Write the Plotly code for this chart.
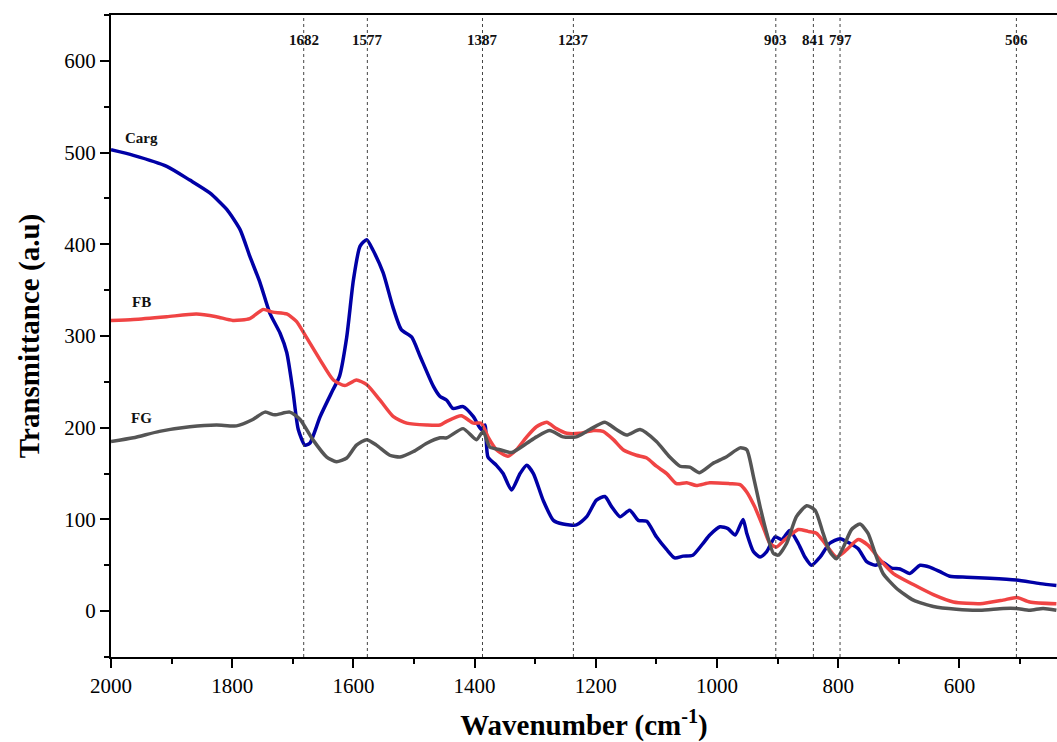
import plotly.graph_objects as go

# ---- data ----
carg_x = [2000, 1963, 1908, 1870, 1837, 1809, 1787, 1771, 1754, 1738, 1721, 1710, 1700, 1691, 1680,
          1672, 1655, 1634, 1623, 1611, 1600, 1589, 1578, 1568, 1551, 1535, 1521, 1504, 1490, 1468,
          1457, 1446, 1436, 1419, 1402, 1389, 1383, 1378, 1364, 1353, 1339, 1325, 1314, 1303, 1287,
          1270, 1254, 1232, 1215, 1199, 1185, 1174, 1160, 1144, 1130, 1116, 1100, 1083, 1070, 1056,
          1040, 1023, 1012, 995, 982, 970, 957, 951, 940, 929, 918, 904, 893, 880, 866, 855, 844,
          830, 814, 797, 781, 767, 753, 739, 726, 712, 698, 682, 665, 649, 632, 616, 588, 550, 506,
          467, 440]
carg_y = [503, 497, 485, 470, 456, 438, 416, 387, 358, 325, 303, 282, 241, 198, 181,
          183, 212, 241, 256, 299, 361, 398, 405, 394, 369, 332, 307, 299, 278, 245,
          234, 230, 221, 223, 212, 198, 203, 168, 159, 150, 132, 150, 159, 150, 121,
          99, 95, 94, 103, 121, 125, 114, 103, 110, 99, 98, 81, 67, 58, 60,
          61, 74, 83, 92, 90, 83, 100, 85, 65, 59, 65, 81, 78, 88, 74, 59, 50,
          59, 74, 79, 74, 68, 54, 50, 53, 47, 46, 41, 50, 48, 43, 38, 37, 36, 34,
          30, 28]

fb_x = [2000, 1963, 1908, 1859, 1826, 1799, 1771, 1749, 1733, 1710, 1694, 1678, 1655, 1633, 1614,
        1595, 1578, 1556, 1534, 1512, 1479, 1457, 1446, 1422, 1402, 1389, 1378, 1364, 1345, 1331,
        1314, 1298, 1281, 1265, 1248, 1226, 1204, 1188, 1171, 1155, 1133, 1116, 1100, 1083, 1067,
        1050, 1034, 1012, 979, 962, 951, 938, 924, 913, 902, 888, 866, 850, 836, 822, 803, 786,
        767, 751, 731, 709, 676, 643, 610, 566, 528, 505, 484, 440]
fb_y = [317, 318, 321, 324, 321, 317, 319, 329, 326, 324, 316, 299, 274, 252, 246,
        252, 247, 230, 212, 205, 203, 203, 207, 213, 205, 205, 190, 176, 169, 176,
        190, 201, 206, 199, 194, 194, 197, 196, 187, 176, 170, 167, 158, 150, 139,
        140, 137, 140, 139, 138, 130, 114, 92, 74, 70, 78, 89, 87, 85, 74, 59, 67,
        78, 72, 56, 41, 29, 18, 10, 8, 12, 15, 10, 8]

fg_x = [2000, 1963, 1920, 1870, 1826, 1793, 1766, 1746, 1730, 1705, 1688, 1667, 1644, 1628, 1611,
        1595, 1578, 1562, 1540, 1523, 1501, 1479, 1457, 1446, 1419, 1397, 1386, 1375, 1358, 1339,
        1314, 1298, 1276, 1254, 1232, 1210, 1185, 1166, 1149, 1127, 1100, 1078, 1061, 1045, 1029,
        1007, 985, 962, 951, 940, 929, 918, 907, 899, 885, 869, 852, 838, 825, 814, 803, 792,
        778, 764, 751, 739, 726, 704, 676, 643, 605, 566, 528, 506, 484, 462, 440]
fg_y = [185, 189, 196, 201, 203, 202, 209, 217, 214, 217, 209, 187, 168, 163, 167,
        181, 187, 181, 170, 168, 174, 183, 189, 189, 199, 187, 196, 179, 176, 173,
        183, 190, 197, 190, 190, 198, 206, 198, 192, 198, 185, 168, 158, 157, 151,
        161, 168, 178, 176, 147, 114, 85, 63, 61, 74, 103, 115, 110, 85, 65, 57, 69,
        89, 95, 85, 63, 41, 25, 12, 5, 2, 1, 3, 3, 1, 3, 1]

peak_positions = [1682, 1577, 1387, 1237, 903, 841, 797, 506]
peak_labels = ["1682", "1577", "1387", "1237", "903", "841", "797", "506"]

series_names = ["Carg", "FB", "FG"]
series_colors = ["#0000A6", "#F04444", "#555555"]

SERIF = "Liberation Serif, Times New Roman, serif"

fig = go.Figure()
for name, xs, ys, col in zip(series_names, [carg_x, fb_x, fg_x], [carg_y, fb_y, fg_y], series_colors):
    fig.add_trace(go.Scatter(x=xs, y=ys, mode="lines", name=name,
                             line=dict(color=col, width=3.5, shape="spline", smoothing=0.6)))

# vertical dotted reference lines and labels
for p, lab in zip(peak_positions, peak_labels):
    fig.add_shape(type="line", xref="x", yref="paper", x0=p, x1=p, y0=0, y1=1,
                  line=dict(color="#444444", width=1, dash="dot"))
    fig.add_annotation(x=p, y=623, xref="x", yref="y", text="<b>%s</b>" % lab, showarrow=False,
                       font=dict(family=SERIF, size=15, color="#111111"))

# curve labels
label_pos_y = [516, 337, 211]
for name, ly in zip(series_names, label_pos_y):
    fig.add_annotation(x=1950, y=ly, xref="x", yref="y", text="<b>%s</b>" % name, showarrow=False,
                       font=dict(family=SERIF, size=15, color="#111111"))

fig.update_layout(
    width=1057, height=742,
    margin=dict(l=111, r=0, t=15, b=85),
    paper_bgcolor="white", plot_bgcolor="white",
    showlegend=False,
    font=dict(family=SERIF, color="black", size=14),
    xaxis=dict(range=[2000, 439], tickmode="array",
               tickvals=[2000, 1800, 1600, 1400, 1200, 1000, 800, 600],
               ticks="outside", ticklen=9, tickwidth=2, tickcolor="black",
               showline=True, linewidth=2, linecolor="black", mirror=True,
               showgrid=False, zeroline=False,
               tickfont=dict(family=SERIF, size=21, color="black"),
               minor=dict(dtick=100, tick0=0, ticks="outside", ticklen=5, tickwidth=2, tickcolor="black"),
               title=dict(text="<b>Wavenumber (cm<sup>-1</sup>)</b>", standoff=20,
                          font=dict(family=SERIF, size=29, color="black"))),
    yaxis=dict(range=[-50, 650], tickmode="array",
               tickvals=[0, 100, 200, 300, 400, 500, 600],
               ticks="outside", ticklen=9, tickwidth=2, tickcolor="black",
               showline=True, linewidth=2, linecolor="black", mirror=False,
               showgrid=False, zeroline=False,
               tickfont=dict(family=SERIF, size=21, color="black"),
               minor=dict(dtick=50, tick0=0, ticks="outside", ticklen=5, tickwidth=2, tickcolor="black"),
               title=dict(text="<b>Transmittance (a.u)</b>", standoff=16,
                          font=dict(family=SERIF, size=29, color="black"))),
)

fig.write_html("out.html")
